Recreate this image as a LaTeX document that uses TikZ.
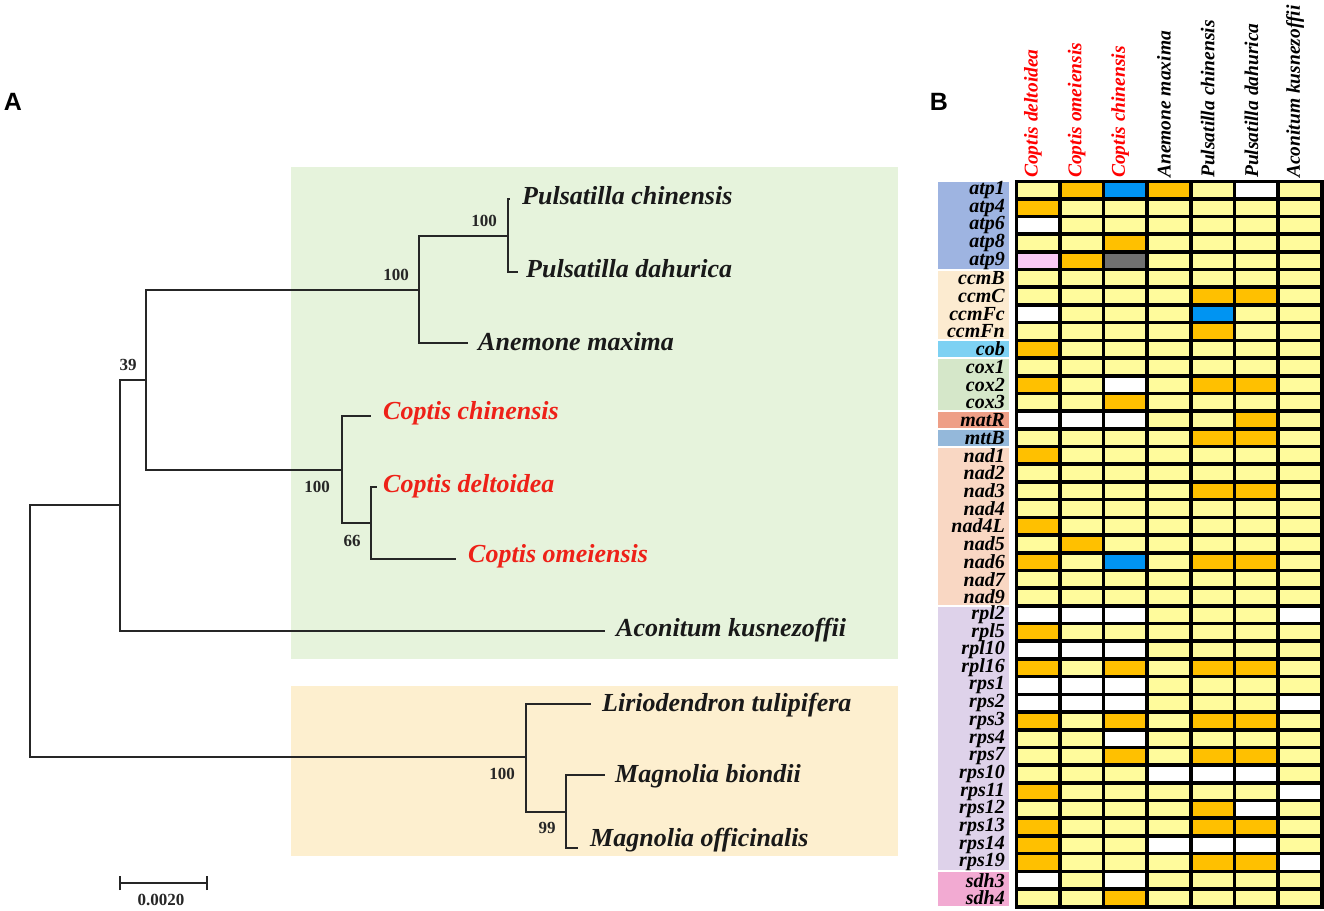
\documentclass[tikz,border=0pt]{standalone}
\usepackage{fontspec}
\setmainfont{Liberation Serif}
\setsansfont{Liberation Sans}
\usetikzlibrary{positioning}
% cell colours
\definecolor{hmY}{HTML}{FFFB9C}
\definecolor{hmO}{HTML}{FFC000}
\definecolor{hmB}{HTML}{0094F2}
\definecolor{hmW}{HTML}{FFFFFF}
\definecolor{hmP}{HTML}{F8C8F6}
\definecolor{hmG}{HTML}{707070}
% gene group colours
\definecolor{gatp}{HTML}{9EB4E1}
\definecolor{gccm}{HTML}{FCEBD0}
\definecolor{gcob}{HTML}{7DD1F3}
\definecolor{gcox}{HTML}{D5E7C9}
\definecolor{gmat}{HTML}{EE9F87}
\definecolor{gmtt}{HTML}{94B8DA}
\definecolor{gnad}{HTML}{F9D7C3}
\definecolor{grp}{HTML}{DED2EA}
\definecolor{gsdh}{HTML}{F2AAD2}
% clade boxes
\definecolor{cladeA}{HTML}{E6F3DC}
\definecolor{cladeB}{HTML}{FDEFCF}
\definecolor{cred}{HTML}{EE2118}
\begin{document}
\begin{tikzpicture}[x=1pt,y=-1pt,
	br/.style={line width=1.4pt,draw=black!85},
	tip/.style={anchor=west,inner sep=0pt,text=black!90,font=\fontsize{26}{26}\selectfont\bfseries\itshape},
	boot/.style={inner sep=0pt,text=black!85,font=\fontsize{17}{17}\selectfont\bfseries},
	gene/.style={anchor=east,inner sep=0pt,font=\fontsize{20}{20}\selectfont\bfseries\itshape},
	hdr/.style={rotate=90,anchor=west,inner sep=0pt,font=\fontsize{19.5}{19.5}\selectfont\bfseries\itshape},
	panel/.style={inner sep=0pt,font=\fontsize{25}{25}\selectfont\sffamily\bfseries}]
	\useasboundingbox (0,0) rectangle (1324,910);
	%clade boxes
	\fill[cladeA] (291,167) rectangle (898,659);
	\fill[cladeB] (291,686) rectangle (898,856);
	\node[panel] (pA) at (13,102) {A};
	\node[panel] (pB) at (939,102) {B};
	%tree (x,y) with y downwards
	\coordinate (R) at (30,631);\coordinate (N1) at (120,505);\coordinate (N2) at (146,380);
	\coordinate (N3) at (419,290);\coordinate (N4) at (508,236);\coordinate (N5) at (342,470);
	\coordinate (N6) at (371,523);\coordinate (N7) at (526,757);\coordinate (N8) at (566,812);
	\coordinate (Pc) at (510,199);\coordinate (Pd) at (518,272);\coordinate (Am) at (468,343);
	\coordinate (Cc) at (371,416);\coordinate (Cd) at (377,487);\coordinate (Co) at (456,559);
	\coordinate (Ak) at (605,631);\coordinate (Lt) at (591,704);\coordinate (Mb) at (605,775);
	\coordinate (Mo) at (578,848);
	\foreach \p/\c in {R/N1,R/N7,N1/N2,N1/Ak,N2/N3,N2/N5,N3/N4,N3/Am,N4/Pc,N4/Pd,
		N5/Cc,N5/N6,N6/Cd,N6/Co,N7/Lt,N7/N8,N8/Mb,N8/Mo}
		\draw[br] (\p) |- (\c);
	\node[tip] (lPc) at (522,196) {Pulsatilla chinensis};
	\node[tip] (lPd) at (526,269) {Pulsatilla dahurica};
	\node[tip] (lAm) at (478,342) {Anemone maxima};
	\node[tip,text=cred] (lCc) at (383,413) {Coptis chinensis};
	\node[tip,text=cred] (lCd) at (383,486) {Coptis deltoidea};
	\node[tip,text=cred] (lCo) at (468,556) {Coptis omeiensis};
	\node[tip] (lAk) at (616,630) {Aconitum kusnezoffii};
	\node[tip] (lLt) at (602,705) {Liriodendron tulipifera};
	\node[tip] (lMb) at (615,776) {Magnolia biondii};
	\node[tip] (lMo) at (590,840) {Magnolia officinalis};
	%bootstrap values
	\node[boot] (b1) at (484,221) {100};
	\node[boot] (b2) at (396,275) {100};
	\node[boot] (b3) at (128,365) {39};
	\node[boot] (b4) at (317,487) {100};
	\node[boot] (b5) at (352,541) {66};
	\node[boot] (b6) at (502,774) {100};
	\node[boot] (b7) at (547,828) {99};
	%scale bar
	\coordinate (S1) at (120,883);\coordinate (S2) at (207,883);
	\draw[br] (S1) -- (S2);
	\draw[br] ([yshift=-7pt]S1) -- ([yshift=7pt]S1);
	\draw[br] ([yshift=-7pt]S2) -- ([yshift=7pt]S2);
	\node[boot] (sb) at (161,900) {0.0020};
	%gene groups
	\foreach \a/\b/\col in {1/5/gatp,6/9/gccm,10/10/gcob,11/13/gcox,14/14/gmat,
		15/15/gmtt,16/24/gnad,25/39/grp,40/41/gsdh}
		\fill[\col] (938,{181+17.7*(\a-1)+1}) rectangle (1009,{181+17.7*\b-1});
	%heat map
	\fill[black] (1014.5,179.5) rectangle (1323.5,908.5);
	\foreach \g/\cl [count=\r] in {atp1/{Y,O,B,O,Y,W,Y},atp4/{O,Y,Y,Y,Y,Y,Y},atp6/{W,Y,Y,Y,Y,Y,Y},
		atp8/{Y,Y,O,Y,Y,Y,Y},atp9/{P,O,G,Y,Y,Y,Y},ccmB/{Y,Y,Y,Y,Y,Y,Y},ccmC/{Y,Y,Y,Y,O,O,Y},
		ccmFc/{W,Y,Y,Y,B,Y,Y},ccmFn/{Y,Y,Y,Y,O,Y,Y},cob/{O,Y,Y,Y,Y,Y,Y},cox1/{Y,Y,Y,Y,Y,Y,Y},
		cox2/{O,Y,W,Y,O,O,Y},cox3/{Y,Y,O,Y,Y,Y,Y},matR/{W,W,W,Y,Y,O,Y},mttB/{Y,Y,Y,Y,O,O,Y},
		nad1/{O,Y,Y,Y,Y,Y,Y},nad2/{Y,Y,Y,Y,Y,Y,Y},nad3/{Y,Y,Y,Y,O,O,Y},nad4/{Y,Y,Y,Y,Y,Y,Y},
		nad4L/{O,Y,Y,Y,Y,Y,Y},nad5/{Y,O,Y,Y,Y,Y,Y},nad6/{O,Y,B,Y,O,O,Y},nad7/{Y,Y,Y,Y,Y,Y,Y},
		nad9/{Y,Y,Y,Y,Y,Y,Y},rpl2/{W,W,W,Y,Y,Y,W},rpl5/{O,Y,Y,Y,Y,Y,Y},rpl10/{W,W,W,Y,Y,Y,Y},
		rpl16/{O,Y,O,Y,O,O,Y},rps1/{W,W,W,Y,Y,Y,Y},rps2/{W,W,W,Y,Y,Y,W},rps3/{O,Y,O,Y,O,O,Y},
		rps4/{Y,Y,W,Y,Y,Y,Y},rps7/{Y,Y,O,Y,O,O,Y},rps10/{Y,Y,Y,W,W,W,Y},rps11/{O,Y,Y,Y,Y,Y,W},
		rps12/{Y,Y,Y,Y,O,W,Y},rps13/{O,Y,Y,Y,O,O,Y},rps14/{O,Y,Y,W,W,W,Y},rps19/{O,Y,Y,Y,O,O,W},
		sdh3/{W,Y,W,Y,Y,Y,Y},sdh4/{Y,Y,O,Y,Y,Y,Y}}{
		\foreach \c [count=\k] in \cl
			\fill[hm\c] ({1016+43.7*(\k-1)+1.8},{181+17.7*(\r-1)+1.8}) rectangle ({1016+43.7*\k-1.8},{181+17.7*\r-1.8});
		\node[gene] (g\r) at (1005,{181+17.7*(\r-0.5)}) {\g};
	}
	%column heads
	\foreach \s/\col [count=\k] in {Coptis deltoidea/red,Coptis omeiensis/red,Coptis chinensis/red,
		Anemone maxima/black,Pulsatilla chinensis/black,Pulsatilla dahurica/black,Aconitum kusnezoffii/black}
		\node[hdr,text=\col] (h\k) at ({1016+43.7*(\k-0.5)-5},178) {\s};
\end{tikzpicture}
\end{document}
